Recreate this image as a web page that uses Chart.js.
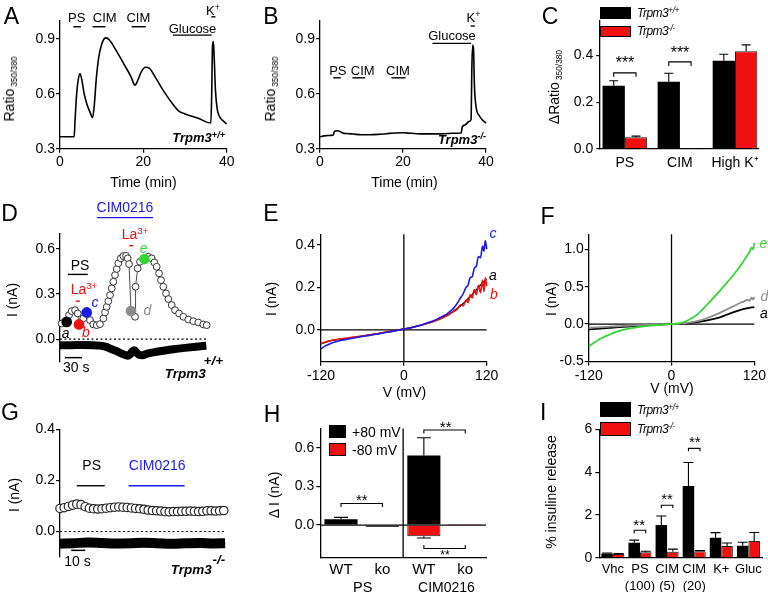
<!DOCTYPE html>
<html>
<head>
<meta charset="utf-8">
<title>Trpm3 figure</title>
<script src="https://cdn.jsdelivr.net/npm/chart.js@4.4.1/dist/chart.umd.min.js"></script>
<style>
  body { margin: 0; width: 768px; height: 592px; overflow: hidden; position: relative; background: #fff;
         font-family: "Liberation Sans", Arial, Helvetica, sans-serif; color: #000; }
  canvas { position: absolute; }
  .t { position: absolute; white-space: nowrap; line-height: 1; font-size: 13px; transform: translate(-50%, -50%); z-index: 2; }
  .rot { transform: translate(-50%, -50%) rotate(-90deg); font-size: 14px; }
  .lft { transform: translate(0, -50%); }
  .rgt { transform: translate(-100%, -50%); }
  .big { font-size: 23px; }
  .tr { font-weight: bold; font-style: italic; }
  .it { font-style: italic; font-size: 14px; }
  .leg { font-style: italic; font-size: 12px; letter-spacing: -0.5px; }
  sup { font-size: 0.7em; position: relative; top: -0.45em; vertical-align: baseline; line-height: 0; }
  sub { font-size: 0.6em; position: relative; top: 0.3em; vertical-align: baseline; line-height: 0; margin-left: 2px; }
  .sw { position: absolute; box-sizing: border-box; border: 1px solid #000; z-index: 2; }
</style>
</head>
<body>
<script>
// ---- A: Fura-2 ratio, wild type
var timeA = [0, 3.4, 3.6, 4.0, 4.4, 4.8, 5.2, 5.8, 6.5, 7.2, 7.8, 8.2, 8.7, 9.3, 10.0, 10.6, 11.1, 11.8, 13, 15,
             17, 18, 18.7, 19.5, 20.5, 21.4, 23, 25, 27, 28.5, 30, 33, 36.2, 36.4, 36.6, 36.8, 37.0, 37.3, 37.7, 38.3, 39, 40];
var ratioA = [0.365, 0.365, 0.45, 0.6, 0.68, 0.71, 0.68, 0.6, 0.54, 0.5, 0.47, 0.53, 0.68, 0.8, 0.87, 0.9, 0.905, 0.895, 0.855, 0.775,
              0.695, 0.647, 0.675, 0.72, 0.745, 0.74, 0.685, 0.61, 0.545, 0.505, 0.49, 0.468, 0.44, 0.6, 0.86, 0.885, 0.8, 0.62, 0.52, 0.475, 0.455, 0.435];
// ---- B: Fura-2 ratio, knockout
var timeB = [0, 1, 2, 3.2, 3.5, 4.2, 5.0, 5.5, 6.5, 8, 10, 12, 14, 16, 18, 20, 22, 24, 26, 28,
             30, 32, 34, 34.3, 35, 36, 36.4, 36.6, 36.8, 37.0, 37.2, 37.6, 38.4, 39.2, 40];
var ratioB = [0.365, 0.37, 0.372, 0.375, 0.395, 0.398, 0.392, 0.385, 0.383, 0.38, 0.376, 0.376, 0.378, 0.382, 0.386, 0.387, 0.384, 0.381, 0.381, 0.381,
              0.382, 0.384, 0.386, 0.42, 0.43, 0.45, 0.46, 0.75, 0.866, 0.84, 0.65, 0.53, 0.48, 0.455, 0.44];
// drug applications (min) in A and B: PS, CIM, CIM, Glucose, K+
var drugStart = [3.2, 7.8, 17.2, 27.1, 36.3];
var drugEnd = [5.0, 10.9, 20.6, 36.4, 37.3];

// ---- C: delta ratio
var groupsC = ['PS', 'CIM', 'High K\u207A'];
var wtC = [0.271, 0.288, 0.378], wtErrC = [0.021, 0.036, 0.028];
var koC = [0.049, 0.002, 0.419], koErrC = [0.005, 0, 0.027];

// ---- D: whole-cell current time course, wild type (s, nA)
var tD = [3, 11.8, 15.9, 20.6, 26.5, 31.2, 33.5, 41.1, 47.1, 52.9, 58.7, 64.7, 70.5, 76.4, 79.4, 82.4, 85.2, 88.2, 91.2, 94,
          97, 100, 102.8, 107.1, 111.6, 116.4, 119.4, 121.7, 125.2, 132.3, 133.2, 137, 141.1, 148.7, 155.7, 161.7, 166.3, 170.5, 174.6, 178.1,
          182.2, 186.9, 191, 197, 202.8, 209.9, 217.5, 226.3, 235.1, 243.9, 252.7, 258.7];
var iD = [0.104, 0.115, 0.16, 0.187, 0.193, 0.171, 0.098, 0.138, 0.178, 0.127, 0.098, 0.093, 0.1, 0.138, 0.178, 0.215, 0.253, 0.293, 0.338, 0.382,
          0.427, 0.467, 0.505, 0.538, 0.553, 0.555, 0.538, 0.5, 0.187, 0.149, 0.349, 0.471, 0.515, 0.533, 0.549, 0.538, 0.511, 0.482, 0.438, 0.393,
          0.349, 0.305, 0.267, 0.227, 0.193, 0.171, 0.149, 0.131, 0.12, 0.111, 0.098, 0.093];
var tDneg = [0, 20, 40, 60, 70, 80, 90, 100, 108, 115, 120, 124, 128, 131, 135, 140, 145, 155, 170, 185, 200, 220, 240, 258];
var iDneg = [-0.04, -0.04, -0.039, -0.04, -0.043, -0.05, -0.065, -0.08, -0.095, -0.105, -0.11, -0.1, -0.08, -0.073, -0.09, -0.105, -0.107, -0.095, -0.084, -0.075, -0.067, -0.058, -0.05, -0.044];
var markLabels = ['a', 'b', 'c', 'd', 'e'];
var markT = [11.8, 33.5, 47.1, 125.2, 148.7];
var markI = [0.115, 0.098, 0.178, 0.187, 0.533];
// applications in D (s): CIM0216, PS, La3+, La3+
var drugDStart = [65, 14, 28, 122];
var drugDEnd = [164, 49, 35, 129];

// ---- E: I-V curves a, b, c
var vE = [-120, -115, -110, -105, -100, -90, -80, -70, -60, -50, -40, -30, -20, -10, 0, 10, 20, 30, 40, 50,
          55, 60, 65, 70, 74, 78, 82, 86, 90, 93, 96, 99, 102, 105, 108, 111, 114, 116, 118, 120];
var iEa = [-0.066, -0.06, -0.055, -0.051, -0.048, -0.043, -0.039, -0.034, -0.029, -0.024, -0.019, -0.013, -0.008, -0.002, 0.004, 0.01, 0.018, 0.027, 0.037, 0.05,
           0.057, 0.065, 0.073, 0.083, 0.093, 0.103, 0.113, 0.124, 0.136, 0.146, 0.156, 0.166, 0.177, 0.189, 0.2, 0.21, 0.221, 0.228, 0.233, 0.238];
var iEb = [-0.064, -0.059, -0.054, -0.05, -0.047, -0.042, -0.038, -0.033, -0.029, -0.024, -0.019, -0.013, -0.008, -0.002, 0.004, 0.01, 0.018, 0.027, 0.036, 0.048,
           0.055, 0.063, 0.071, 0.082, 0.09, 0.1, 0.118, 0.112, 0.14, 0.128, 0.165, 0.15, 0.19, 0.165, 0.21, 0.175, 0.235, 0.18, 0.245, 0.205];
var iEc = [-0.09, -0.078, -0.07, -0.063, -0.057, -0.049, -0.043, -0.037, -0.031, -0.026, -0.021, -0.015, -0.009, -0.003, 0.004, 0.01, 0.018, 0.028, 0.039, 0.053,
           0.062, 0.07, 0.082, 0.095, 0.11, 0.128, 0.15, 0.17, 0.2, 0.21, 0.245, 0.25, 0.29, 0.3, 0.345, 0.34, 0.395, 0.37, 0.42, 0.38];

// ---- F: I-V curves a, d, e
var vF = [-120, -115, -110, -105, -100, -95, -90, -80, -70, -60, -50, -40, -30, -20, -10, 0, 10, 20, 30, 40,
          50, 60, 70, 80, 90, 100, 105, 110, 113, 116, 118, 120];
var iFe = [-0.30, -0.265, -0.236, -0.206, -0.182, -0.16, -0.14, -0.104, -0.078, -0.058, -0.043, -0.031, -0.021, -0.012, -0.005, 0, 0.01, 0.035, 0.08, 0.15,
           0.245, 0.345, 0.445, 0.55, 0.66, 0.78, 0.85, 0.92, 0.96, 1.02, 1.0, 1.08];
var iFd = [-0.05, -0.047, -0.044, -0.042, -0.04, -0.037, -0.034, -0.029, -0.024, -0.019, -0.015, -0.011, -0.008, -0.005, -0.002, 0, 0.004, 0.012, 0.025, 0.045,
           0.075, 0.11, 0.15, 0.195, 0.24, 0.285, 0.3, 0.325, 0.31, 0.355, 0.33, 0.36];
var iFa = [-0.072, -0.068, -0.065, -0.061, -0.058, -0.054, -0.05, -0.044, -0.037, -0.031, -0.025, -0.019, -0.013, -0.008, -0.003, 0, 0.004, 0.01, 0.018, 0.03,
           0.045, 0.065, 0.09, 0.125, 0.16, 0.19, 0.203, 0.213, 0.218, 0.222, 0.224, 0.226];

// ---- G: current time course, knockout (s, nA)
var tG = [0, 3, 6, 9, 12, 15, 18, 21, 24, 27, 30, 33, 36, 39, 42, 45, 48, 51, 54, 57,
          60, 63, 66, 69, 72, 75, 78, 81, 84, 87, 90, 93, 96, 99, 102, 105, 108, 111, 114, 117];
var iG = [0.09, 0.093, 0.098, 0.103, 0.107, 0.105, 0.097, 0.091, 0.089, 0.088, 0.089, 0.091, 0.093, 0.095, 0.096, 0.095, 0.094, 0.092, 0.09, 0.089,
          0.087, 0.084, 0.082, 0.081, 0.08, 0.078, 0.077, 0.078, 0.078, 0.079, 0.079, 0.08, 0.079, 0.078, 0.079, 0.081, 0.081, 0.08, 0.081, 0.082];
var tGneg = [0, 10, 20, 30, 40, 50, 60, 70, 80, 90, 100, 110, 118];
var iGneg = [-0.048, -0.046, -0.043, -0.045, -0.047, -0.046, -0.044, -0.046, -0.048, -0.046, -0.045, -0.047, -0.046];
// applications in G (s): PS, CIM0216
var drugGStart = [12, 49];
var drugGEnd = [32, 89];

// ---- H: delta current
var condH = ['WT', 'ko', 'WT', 'ko'];
var plus80 = [0.045, -0.012, 0.54, 0.003], plus80Err = [0.015, 0, 0.138, 0];
var minus80 = [0, 0, -0.086, -0.002], minus80Err = [0, 0, 0.014, 0];

// ---- I: insulin release
var condI = [['Vhc'], ['PS', '(100)'], ['CIM', '(5)'], ['CIM', '(20)'], ['K+'], ['Gluc']];
var wtI = [0.2, 0.70, 1.53, 3.35, 0.93, 0.56], wtErrI = [0.02, 0.12, 0.42, 1.1, 0.24, 0.16];
var koI = [0.17, 0.26, 0.28, 0.30, 0.55, 0.78], koErrI = [0.02, 0.04, 0.12, 0.03, 0.14, 0.4];

Chart.defaults.font.family = '"Liberation Sans", Arial, Helvetica, sans-serif';
Chart.defaults.font.size = 14;
Chart.defaults.color = '#000';
Chart.defaults.animation = false;
Chart.defaults.plugins.legend.display = false;
Chart.defaults.plugins.tooltip.enabled = false;

var RED = '#f01010', BLUE = '#1a1ae6', GREEN = '#33d633', GREY = '#8c8c8c';

// extra drawing per canvas: lines under/over the data, error bars, brackets
var markCfg = {};
function drawLines(c, list) {
    if (!list) return;
    var ctx = c.ctx, xs = c.scales.x, ys = c.scales.y;
    list.forEach(function (m) {
        ctx.save();
        ctx.strokeStyle = m.color || '#000';
        ctx.lineWidth = m.w || 1.3;
        ctx.setLineDash(m.dash || []);
        ctx.beginPath();
        if (m.v) {
            ctx.moveTo(xs.getPixelForValue(m.x), ys.getPixelForValue(m.y0));
            ctx.lineTo(xs.getPixelForValue(m.x), ys.getPixelForValue(m.y1));
        } else {
            ctx.moveTo(xs.getPixelForValue(m.x0), ys.getPixelForValue(m.y));
            ctx.lineTo(xs.getPixelForValue(m.x1), ys.getPixelForValue(m.y));
        }
        ctx.stroke();
        ctx.restore();
    });
}
var marks = {
    id: 'marks',
    beforeDatasetsDraw: function (c) {
        var m = markCfg[c.canvas.id];
        if (m) drawLines(c, m.under);
    },
    afterDatasetsDraw: function (c) {
        var m = markCfg[c.canvas.id];
        if (!m) return;
        drawLines(c, m.over);
        var ctx = c.ctx, ys = c.scales.y;
        ctx.save();
        ctx.strokeStyle = '#000';
        ctx.lineWidth = 1.1;
        c.data.datasets.forEach(function (ds, di) {
            if (!ds.errors) return;
            var meta = c.getDatasetMeta(di);
            meta.data.forEach(function (el, i) {
                var e = ds.errors[i];
                if (!e) return;
                var raw = ds.data[i];
                var v = typeof raw === 'object' ? raw.y : raw;
                var yEnd = ys.getPixelForValue(v >= 0 ? v + e : v - e);
                ctx.beginPath();
                ctx.moveTo(el.x, el.y); ctx.lineTo(el.x, yEnd);
                ctx.moveTo(el.x - m.cap, yEnd); ctx.lineTo(el.x + m.cap, yEnd);
                ctx.stroke();
            });
        });
        (m.brackets || []).forEach(function (b) {
            var x0 = c.getDatasetMeta(b.a[0]).data[b.a[1]].x;
            var x1 = c.getDatasetMeta(b.b[0]).data[b.b[1]].x;
            var y = ys.getPixelForValue(b.y);
            ctx.beginPath();
            ctx.moveTo(x0, y + b.h); ctx.lineTo(x0, y); ctx.lineTo(x1, y); ctx.lineTo(x1, y + b.h);
            ctx.stroke();
        });
        ctx.restore();
    }
};
Chart.register(marks);

function pts(xs, ys) {
    return xs.map(function (x, i) { return {x: x, y: ys[i]}; });
}
function spans(starts, ends, levels, colors, w) {
    return starts.map(function (s, i) {
        return {x0: s, x1: ends[i], y: levels[i], color: colors[i], w: w || 1.4};
    });
}
function fmt1(v) { return v.toFixed(1); }
function fmt0(v) { return String(v); }

function lin(min, max, tickVals, fmt, o) {
    o = o || {};
    var tl = o.tl == null ? 4 : o.tl;
    return {
        type: 'linear', min: min, max: max, offset: false,
        display: o.display !== false,
        afterBuildTicks: function (s) { s.ticks = tickVals.map(function (v) { return {value: v}; }); },
        ticks: { callback: fmt, padding: o.pad == null ? 1 : o.pad, autoSkip: false, maxRotation: 0,
                 font: { size: o.fs || 14 }, color: '#000' },
        grid: { display: tl !== 0, drawOnChartArea: false, drawTicks: tl !== 0, tickLength: tl, color: '#000', lineWidth: 1.2 },
        border: { display: true, color: '#000', width: 1.3 }
    };
}
function cat(o) {
    return {
        type: 'category', offset: true,
        ticks: { padding: o.pad, font: { size: o.fs, lineHeight: 1.3 }, color: '#000', autoSkip: false, maxRotation: 0 },
        grid: { display: false, drawTicks: false },
        border: { display: true, color: '#000', width: 1.3 }
    };
}

// cell: [x, y, w, h] of the canvas; area: [left, top, right, bottom] of the plot, page pixels
function panel(id, cell, area, type, datasets, xs, ys, labels, extra) {
    var cv = document.createElement('canvas');
    cv.id = id;
    cv.width = cell[2]; cv.height = cell[3];
    cv.style.left = cell[0] + 'px'; cv.style.top = cell[1] + 'px';
    cv.style.width = cell[2] + 'px'; cv.style.height = cell[3] + 'px';
    document.body.appendChild(cv);
    // the axes take a fixed room, even a hidden x axis
    ys.afterFit = function (s) { s.width = area[0] - cell[0]; };
    xs.afterFit = function (s) { s.height = cell[1] + cell[3] - area[3]; };
    var opts = {
        responsive: false,
        animation: false,
        layout: { padding: { left: 0, top: area[1] - cell[1], right: cell[0] + cell[2] - area[2], bottom: 0 } },
        scales: { x: xs, y: ys }
    };
    if (extra) Object.keys(extra).forEach(function (k) { opts[k] = extra[k]; });
    return new Chart(cv, { type: type, data: { labels: labels, datasets: datasets }, options: opts });
}

function trace(data, color, w) {
    return { data: data, borderColor: color, borderWidth: w, pointRadius: 0, cubicInterpolationMode: 'monotone',
             borderJoinStyle: 'round', clip: false };
}

// A
markCfg.cA = { over: spans(drugStart, drugEnd, [0.966, 0.966, 0.966, 0.92, 1.02], ['#000', '#000', '#000', '#000', '#000']) };
panel('cA', [0, 0, 256, 195], [60, 20.5, 226.7, 148.7], 'line',
      [trace(pts(timeA, ratioA), '#000', 1.6)],
      lin(0, 40, [0, 20, 40], fmt0, {tl: 4, pad: 1}),
      lin(0.3, 1.0, [0.3, 0.6, 0.9], fmt1, {tl: 4, pad: 1}));

// B
markCfg.cB = { over: spans(drugStart, drugEnd, [0.687, 0.687, 0.687, 0.875, 0.97], ['#000', '#000', '#000', '#000', '#000']) };
panel('cB', [256, 0, 256, 195], [320, 20.5, 486, 148.7], 'line',
      [trace(pts(timeB, ratioB), '#000', 1.6)],
      lin(0, 40, [0, 20, 40], fmt0, {tl: 4, pad: 1}),
      lin(0.3, 1.0, [0.3, 0.6, 0.9], fmt1, {tl: 4, pad: 1}));

// C
markCfg.cC = { cap: 4.5, brackets: [{a: [0, 0], b: [1, 0], y: 0.326, h: 4}, {a: [0, 1], b: [1, 1], y: 0.373, h: 4}] };
var xC = lin(0.536, 3.436, [1, 2, 3], function (v) { return groupsC[Math.round(v) - 1]; }, {tl: 0, pad: 6});
panel('cC', [512, 0, 256, 195], [599.3, 20.7, 759, 148.7], 'bar',
      [{ data: pts([1, 2, 3], wtC), backgroundColor: '#000', errors: wtErrC },
       { data: pts([1, 2, 3], koC), backgroundColor: RED, borderColor: '#222', borderWidth: 1, errors: koErrC }],
      xC,
      lin(0, 0.55, [0, 0.2, 0.4], fmt1, {tl: 3, pad: 3}), undefined,
      { datasets: { bar: { categoryPercentage: 0.81, barPercentage: 1 } } });

// D
markCfg.cD = {
    under: [{x0: 0, x1: 258, y: 0, dash: [2, 2.5], w: 1.1}],
    over: spans(drugDStart, drugDEnd, [0.809, 0.431, 0.253, 0.622], [BLUE, '#000', RED, RED])
          .concat([{x0: 8.8, x1: 38.8, y: -0.123, w: 1.5}])
};
panel('cD', [0, 195, 256, 200], [60, 234, 210, 361.7], 'line',
      [{ data: pts(markT, markI), showLine: false, pointRadius: 4.6, pointBorderWidth: 1.5,
         pointBackgroundColor: ['#000', RED, BLUE, GREY, GREEN], pointBorderColor: ['#000', RED, BLUE, GREY, GREEN], clip: false },
       { data: pts(tD, iD), borderColor: '#222', borderWidth: 0.8, pointRadius: 3.4, pointBorderWidth: 1,
         pointBackgroundColor: '#fff', pointBorderColor: '#333', clip: false },
       trace(pts(tDneg, iDneg), '#000', 8)],
      lin(0, 264.5, [], fmt0, {display: false}),
      lin(-0.15, 0.7, [0, 0.3, 0.6], fmt1, {tl: 4, pad: 1}));

// E
markCfg.cE = { under: [{x0: -120, x1: 120, y: 0, w: 1.3}, {v: true, x: 0, y0: -0.15, y1: 0.45, w: 1.3}] };
panel('cE', [256, 195, 256, 200], [321, 234.3, 486.7, 361.7], 'line',
      [trace(pts(vE, iEc), BLUE, 1.6), trace(pts(vE, iEb), RED, 1.6), trace(pts(vE, iEa), '#000', 1.4)],
      lin(-120, 120, [-120, 0, 120], fmt0, {tl: 4, pad: 2}),
      lin(-0.15, 0.45, [0, 0.2, 0.4], fmt1, {tl: 4, pad: 2}));

// F
markCfg.cF = { under: [{x0: -120, x1: 120, y: 0, w: 1.3}, {v: true, x: 0, y0: -0.5, y1: 1.2, w: 1.3}] };
panel('cF', [512, 195, 256, 200], [588.7, 234.3, 754.7, 361.5], 'line',
      [trace(pts(vF, iFe), GREEN, 1.8), trace(pts(vF, iFd), GREY, 1.8), trace(pts(vF, iFa), '#000', 1.8)],
      lin(-120, 120, [-120, 0, 120], fmt0, {tl: 4, pad: 2}),
      lin(-0.5, 1.2, [-0.5, 0, 0.5, 1.0], fmt1, {tl: 4, pad: 1}));

// G
markCfg.cG = {
    under: [{x0: 0, x1: 118, y: 0, dash: [2, 2.5], w: 1.1}],
    over: spans(drugGStart, drugGEnd, [0.179, 0.179], ['#000', BLUE]).concat([{x0: 8, x1: 18, y: -0.074, w: 1.5}])
};
panel('cG', [0, 395, 256, 197], [60, 429.3, 226, 557], 'line',
      [{ data: pts(tG, iG), showLine: false, pointRadius: 4.2, pointBorderWidth: 1.2,
         pointBackgroundColor: '#fff', pointBorderColor: '#222', clip: false },
       trace(pts(tGneg, iGneg), '#000', 10)],
      lin(0, 118.6, [], fmt0, {display: false}),
      lin(-0.1, 0.4, [0, 0.2, 0.4], fmt1, {tl: 4, pad: 1}));

// H
markCfg.cH = {
    cap: 7,
    under: [{x0: -0.5, x1: 3.5, y: 0, w: 1.2}, {v: true, x: 1.5, y0: -0.25, y1: 0.75, w: 1.3}],
    brackets: [{a: [0, 0], b: [0, 1], y: 0.168, h: 3.5}, {a: [0, 2], b: [0, 3], y: 0.738, h: 3.5}, {a: [0, 2], b: [0, 3], y: -0.182, h: -3.5}]
};
panel('cH', [256, 395, 256, 197], [320.3, 428.5, 486, 557.3], 'bar',
      [{ data: plus80, backgroundColor: '#000', errors: plus80Err },
       { data: minus80, backgroundColor: RED, borderColor: '#222', borderWidth: 1, errors: minus80Err }],
      cat({pad: 3, fs: 15}),
      lin(-0.25, 0.75, [0, 0.3, 0.6], fmt1, {tl: 4, pad: 2}), condH,
      { datasets: { bar: { categoryPercentage: 0.8, barPercentage: 1, grouped: false } } });

// I
markCfg.cI = {
    cap: 5,
    brackets: [{a: [0, 1], b: [1, 1], y: 1.28, h: 3}, {a: [0, 2], b: [1, 2], y: 2.45, h: 3}, {a: [0, 3], b: [1, 3], y: 5.11, h: 3}]
};
panel('cI', [512, 395, 256, 197], [599.3, 429.3, 762, 557.7], 'bar',
      [{ data: wtI, backgroundColor: '#000', errors: wtErrI },
       { data: koI, backgroundColor: RED, borderColor: '#222', borderWidth: 1, errors: koErrI }],
      cat({pad: 3, fs: 13}),
      lin(0, 6, [0, 2, 4, 6], fmt0, {tl: 4, pad: 3}), condI,
      { datasets: { bar: { categoryPercentage: 0.85, barPercentage: 1 } } });

// ---- text
function txt(x, y, html, cls, css) {
    var d = document.createElement('div');
    d.className = 't ' + (cls || '');
    d.style.left = x + 'px';
    d.style.top = y + 'px';
    if (css) d.style.cssText += css;
    d.innerHTML = html;
    document.body.appendChild(d);
}
function swatch(x, y, w, h, color) {
    var d = document.createElement('div');
    d.className = 'sw';
    d.style.cssText += 'left:' + x + 'px;top:' + y + 'px;width:' + w + 'px;height:' + h + 'px;background:' + color;
    document.body.appendChild(d);
}
var red = 'color:' + RED + ';', blue = 'color:' + BLUE + ';', green = 'color:' + GREEN + ';', grey = 'color:' + GREY + ';';

txt(11.5, 16, 'A', 'big'); txt(271, 16, 'B', 'big'); txt(550, 15.5, 'C', 'big');
txt(9.5, 212.5, 'D', 'big'); txt(271, 212.5, 'E', 'big'); txt(547.5, 216, 'F', 'big');
txt(10, 411.5, 'G', 'big'); txt(272, 413.5, 'H', 'big'); txt(543.3, 411.7, 'I', 'big');

// A
txt(76.7, 17.3, 'PS'); txt(104.7, 17.3, 'CIM'); txt(138.3, 17.3, 'CIM');
txt(192.5, 27.5, 'Glucose'); txt(213, 9.5, 'K<sup>+</sup>');
txt(225, 137, 'Trpm3<sup>+/+</sup>', 'tr rgt');
txt(8.5, 88.5, 'Ratio<sub>350/380</sub>', 'rot');
txt(143.5, 182, 'Time (min)', '', 'font-size:14px');
// B
txt(337.8, 70, 'PS'); txt(362.7, 70, 'CIM'); txt(398, 70, 'CIM');
txt(452, 34.7, 'Glucose'); txt(473.5, 16.5, 'K<sup>+</sup>');
txt(486, 138.5, 'Trpm3<sup>-/-</sup>', 'tr rgt');
txt(269.5, 88.5, 'Ratio<sub>350/380</sub>', 'rot');
txt(404.5, 182, 'Time (min)', '', 'font-size:14px');
// C
swatch(600, 7, 31, 11.5, '#000'); swatch(600, 25.7, 31, 11, RED);
txt(637, 12.5, 'Trpm3<sup>+/+</sup>', 'lft leg'); txt(637, 31, 'Trpm3<sup>-/-</sup>', 'lft leg');
txt(625, 63, '***', '', 'font-size:16px'); txt(680, 52.5, '***', '', 'font-size:16px');
txt(554, 86.7, '&Delta;Ratio<sub>350/380</sub>', 'rot');
// D
txt(125, 206.7, 'CIM0216', '', blue + 'font-size:14px');
txt(80, 265, 'PS', '', 'font-size:14px');
txt(84, 288.5, 'La<sup>3+</sup>', '', red + 'font-size:14px');
txt(135, 233.5, 'La<sup>3+</sup>', '', red + 'font-size:14px');
txt(65.7, 332.5, markLabels[0], 'it');
txt(86, 331.7, markLabels[1], 'it', red);
txt(95, 301.6, markLabels[2], 'it', blue);
txt(147.5, 310.3, markLabels[3], 'it', grey);
txt(143.7, 247.5, markLabels[4], 'it', green);
txt(76.2, 366.7, '30 s', '', 'font-size:14px');
txt(185.3, 374, 'Trpm3', 'tr', 'font-size:13.5px');
txt(213.3, 360.5, '+/+', 'tr', 'font-size:13.5px');
txt(11.7, 300, 'I (nA)', 'rot');
// E
txt(493, 233.3, 'c', 'it', blue); txt(493, 275, 'a', 'it'); txt(494, 293.8, 'b', 'it', red);
txt(271, 299, 'I (nA)', 'rot');
txt(404.5, 391.5, 'V (mV)', '', 'font-size:14px');
// F
txt(763.5, 243, 'e', 'it', green); txt(764.5, 296.3, 'd', 'it', grey); txt(764, 313, 'a', 'it');
txt(550.5, 299, 'I (nA)', 'rot');
txt(672, 387.5, 'V (mV)', '', 'font-size:14px');
// G
txt(91.7, 465, 'PS', '', 'font-size:14px');
txt(157.2, 465, 'CIM0216', '', blue + 'font-size:14px');
txt(77.5, 560.5, '10 s', '', 'font-size:14px');
txt(191.2, 570, 'Trpm3', 'tr', 'font-size:13.5px');
txt(218.8, 559.8, '-/-', 'tr', 'font-size:13.5px');
txt(13.5, 495, 'I (nA)', 'rot');
// H
swatch(329, 425, 17, 12.7, '#000'); swatch(329, 443.3, 17, 12.7, RED);
txt(352, 431.5, '+80 mV', 'lft', 'font-size:14px'); txt(352, 449.7, '-80 mV', 'lft', 'font-size:14px');
txt(361.8, 498.7, '**', '', 'font-size:15px');
txt(445.7, 425.8, '**', '', 'font-size:15px');
txt(445, 554.8, '**', '', 'font-size:12px');
txt(362.7, 586.7, 'PS', '', 'font-size:14.5px');
txt(446.5, 586.7, 'CIM0216', '', 'font-size:14px');
txt(273.5, 495, '&Delta; I (nA)', 'rot');
// I
swatch(600.3, 402.3, 30.7, 14.4, '#000'); swatch(600.3, 421.7, 30.7, 14, RED);
txt(637, 409.5, 'Trpm3<sup>+/+</sup>', 'lft leg'); txt(637, 429, 'Trpm3<sup>-/-</sup>', 'lft leg');
txt(639.2, 524.2, '**', '', 'font-size:15px');
txt(667, 497.5, '**', '', 'font-size:15px');
txt(694.8, 440.8, '**', '', 'font-size:15px');
txt(551, 492, '% insuline release', 'rot');
</script>
</body>
</html>
